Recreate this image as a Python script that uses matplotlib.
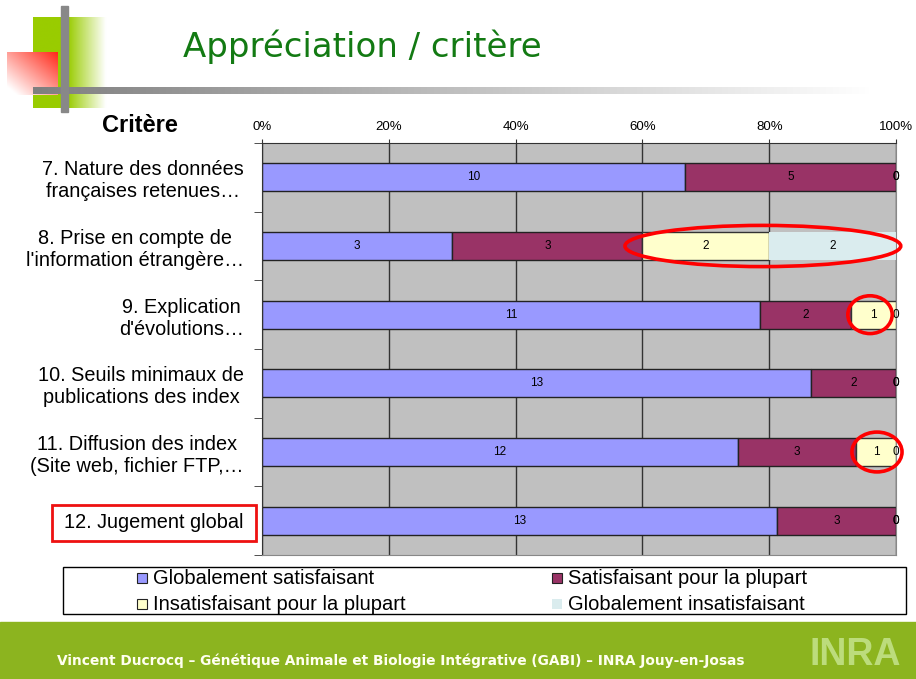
import numpy as np
import matplotlib
matplotlib.use("Agg")
import matplotlib.pyplot as plt
from matplotlib.colors import LinearSegmentedColormap
from matplotlib.patches import Rectangle, Ellipse

# data
criteres = [
    "7. Nature des données\nfrançaises retenues…",
    "8. Prise en compte de\nl'information étrangère…",
    "9. Explication\nd'évolutions…",
    "10. Seuils minimaux de\npublications des index",
    "11. Diffusion des index\n(Site web, fichier FTP,…",
    "12. Jugement global",
]
series = ["Globalement satisfaisant", "Satisfaisant pour la plupart",
          "Insatisfaisant pour la plupart", "Globalement insatisfaisant"]
glob_sat = [10, 3, 11, 13, 12, 13]
sat_plup = [5, 3, 2, 2, 3, 3]
insat_plup = [0, 2, 1, 0, 1, 0]
glob_insat = [0, 2, 0, 0, 0, 0]
pct_ticks = [0, 20, 40, 60, 80, 100]

colors = ["#9999FF", "#993366", "#FFFFCC", "#DAECEE"]
edges = ["#222222", "#222222", "#333333", "none"]

W, H = 916, 679
fig = plt.figure(figsize=(W / 100, H / 100), dpi=100)
plt.rcParams["font.family"] = ["Liberation Sans", "DejaVu Sans"]

# slide background / decoration, pixel coords
bg = fig.add_axes([0, 0, 1, 1], zorder=0)
bg.set_xlim(0, W)
bg.set_ylim(H, 0)
bg.axis("off")


def grad(ax, x0, x1, y0, y1, c0, c1, arr):
    cm = LinearSegmentedColormap.from_list("g", [c0, c1])
    ax.imshow(arr, cmap=cm, vmin=0, vmax=1, extent=(x0, x1, y1, y0),
              aspect="auto", origin="upper", interpolation="bilinear", zorder=1)


u = np.linspace(0, 1, 200)
green = np.clip((u - 0.45) / 0.5, 0, 1)[None, :].repeat(2, 0)
grad(bg, 33, 110, 17, 108, "#99CC00", "#FFFFFF", green)
xx, yy = np.meshgrid(np.linspace(0, 1, 60), np.linspace(0, 1, 60))
red = np.clip(((1 - xx) + yy) / 2 * 1.1, 0, 1)
grad(bg, 7, 58, 52, 95, "#FF2A1A", "#FFFFFF", red)
gray_h = np.clip(u * 1.05, 0, 1)[None, :].repeat(2, 0)
grad(bg, 33, W, 87, 94, "#7F7F7F", "#FFFFFF", gray_h)
bg.add_patch(Rectangle((61, 6), 7, 106, color="#888888", zorder=2))
bg.set_xlim(0, W)
bg.set_ylim(H, 0)

bg.text(362, 47, "Appréciation / critère", fontsize=24.5, color="#137A13",
        ha="center", va="center", family="DejaVu Sans")
bg.text(140, 126, "Critère", fontsize=17, fontweight="bold", ha="center", va="center")

# footer
bg.add_patch(Rectangle((0, 622), W, H - 622, color="#8CB41F", zorder=1))
bg.text(57, 661, "Vincent Ducrocq – Génétique Animale et Biologie Intégrative (GABI) – INRA Jouy-en-Josas",
        fontsize=9.9, fontweight="bold", color="#FFFFF0", ha="left", va="center",
        family="DejaVu Sans", zorder=3)
bg.text(810, 665, "INRA", fontsize=27, fontweight="bold", color="#BCDC7C",
        family=["Liberation Sans Narrow", "Liberation Sans"], ha="left",
        va="baseline", zorder=3)

# legend box
bg.add_patch(Rectangle((63, 567), 843, 47, facecolor="white", edgecolor="black", lw=1, zorder=2))
leg_pos = [(137, 578), (552, 578), (137, 604), (552, 604)]
for (lx, ly), name, c, e in zip(leg_pos, series, colors, edges):
    bg.add_patch(Rectangle((lx, ly - 5), 10, 10, facecolor=c,
                           edgecolor=("#222222" if e != "none" else "none"), lw=0.8, zorder=3))
    bg.text(lx + 16, ly, name, fontsize=14.5, ha="left", va="center", zorder=3)

# red box around last label
bg.add_patch(Rectangle((52, 505), 204, 36, fill=False, edgecolor="#EE1111", lw=2, zorder=3))

# chart
ax = fig.add_axes([262 / W, 1 - 555 / H, 634 / W, 412 / H], zorder=2)
ax.set_facecolor("#C0C0C0")
data = np.array([glob_sat, sat_plup, insat_plup, glob_insat], dtype=float)
totals = data.sum(axis=0)
pct = data / totals * 100
y = np.arange(len(criteres))
left = np.zeros(len(criteres))
for i in range(4):
    ax.barh(y, pct[i], left=left, height=0.41, color=colors[i],
            edgecolor=edges[i], lw=1, zorder=2)
    for j in range(len(criteres)):
        ax.text(left[j] + pct[i][j] / 2, y[j], "%d" % data[i][j], fontsize=8.5,
                ha="center", va="center", zorder=4)
    left += pct[i]

ax.set_xlim(0, 100)
ax.set_ylim(len(criteres) - 0.5, -0.5)
ax.xaxis.tick_top()
ax.set_xticks(pct_ticks)
ax.set_xticklabels(["%d%%" % p for p in pct_ticks], fontsize=9.5)
ax.tick_params(axis="x", length=3, pad=4, color="#333333")
ax.grid(axis="x", color="#333333", lw=1, zorder=1)
ax.set_axisbelow(True)
ax.set_yticks(y)
ax.set_yticklabels(criteres, fontsize=14.3, multialignment="center", linespacing=1.2)
ax.tick_params(axis="y", length=0, pad=13)
ax.set_yticks(np.arange(-0.5, len(criteres) + 0.5, 1), minor=True)
ax.tick_params(axis="y", which="minor", length=6, color="#333333")
for s in ["left", "top"]:
    ax.spines[s].set_color("#333333")
for s in ["right", "bottom"]:
    ax.spines[s].set_color("#888888")

# red highlight ellipses
ax.add_patch(Ellipse((79.0, 1), 43.5, 0.6, fill=False, edgecolor="red", lw=2.6,
                     clip_on=False, zorder=5))
ax.add_patch(Ellipse((95.9, 2), 7.0, 0.55, fill=False, edgecolor="red", lw=2.6,
                     clip_on=False, zorder=5))
ax.add_patch(Ellipse((97.0, 4), 7.9, 0.58, fill=False, edgecolor="red", lw=2.6,
                     clip_on=False, zorder=5))

fig.savefig("out.png", dpi=100)
